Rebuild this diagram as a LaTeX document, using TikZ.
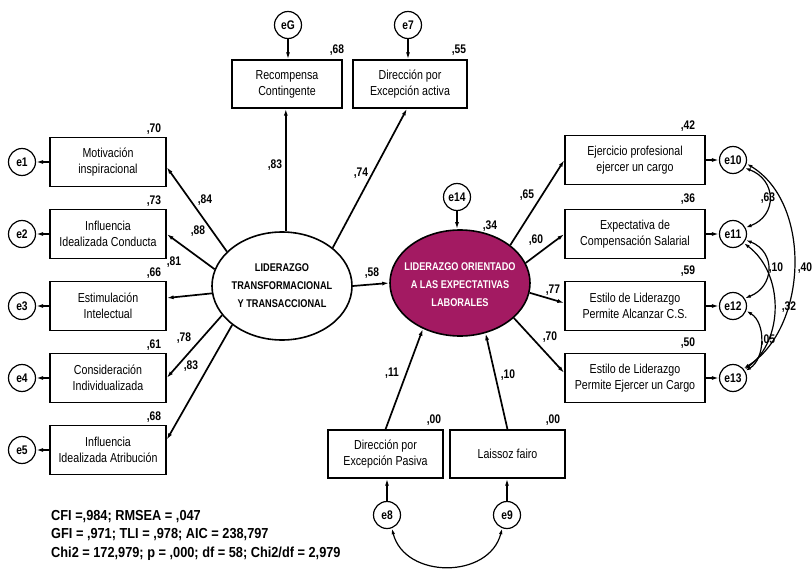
\documentclass[tikz,border=0pt]{standalone}
\usepackage{fontspec}
\setmainfont[FakeStretch=0.82]{Liberation Sans}
\newfontfamily\fitfont[FakeStretch=0.88]{Liberation Sans}
\usetikzlibrary{arrows.meta,shapes.geometric,calc}
\definecolor{magenta}{HTML}{A31A62}
\begin{document}
\begin{tikzpicture}[x=1pt,y=-1pt,
  box/.style={draw,line width=1.3pt,minimum height=49pt,align=center,font=\fontsize{13}{16}\selectfont,inner sep=1pt},
  err/.style={draw,circle,line width=1.2pt,minimum size=27pt,inner sep=0pt,font=\bfseries\fontsize{12.5}{14}\selectfont},
  lat/.style={draw,ellipse,line width=1.6pt,minimum width=140pt,minimum height=108pt,inner sep=0pt},
  lattext/.style={align=center,font=\bfseries\fontsize{11.2}{18}\selectfont,inner sep=0pt},
  arr/.style={line width=1.7pt,-{Latex[length=7pt,width=4pt]}},
  cov/.style={line width=1.2pt,{Latex[length=6pt,width=3.5pt]}-{Latex[length=6pt,width=3.5pt]}},
  lbl/.style={font=\bfseries\fontsize{12.5}{14}\selectfont,inner sep=0pt}]
\useasboundingbox (0,0) rectangle (812,570);

% latent variables
\node[lat] (L) at (282,286) {};
\node[lattext] (Lt) at (L) {LIDERAZGO\\TRANSFORMACIONAL\\Y TRANSACCIONAL};
\node[lat,fill=magenta,minimum height=106pt] (R) at (460,283) {};
\node[lattext,text=white] (Rt) at ([yshift=-2pt]R.center) {LIDERAZGO ORIENTADO\\A LAS EXPECTATIVAS\\LABORALES};

% left indicators
\foreach \i/\y/\t in {1/162/{Motivación\\inspiracional},2/234/{Influencia\\Idealizada Conducta},3/306/{Estimulación\\Intelectual},4/378/{Consideración\\Individualizada},5/450/{Influencia\\Idealizada Atribución}}{
  \node[box,minimum width=116pt] (b\i) at (108,\y) {\t};
  \node[err] (e\i) at (22,\y) {e\i};
  \draw[arr] (b\i.west) -- (e\i);
}
% top indicators
\node[box,minimum width=110pt,minimum height=48pt] (rc) at (287,84) {Recompensa\\Contingente};
\node[box,minimum width=114pt,minimum height=48pt] (da) at (410,84) {Dirección por\\Excepción activa};
\node[err] (eG) at (288,25) {eG};
\node[err] (e7) at (408,25) {e7};
\draw[arr] (eG) -- (eG |- rc.north);
\draw[arr] (e7) -- (e7 |- da.north);

% right indicators
\foreach \i/\y/\t/\e in {1/160/{Ejercicio profesional\\ejercer un cargo}/10,2/234/{Expectativa de\\Compensación Salarial}/11,3/306/{Estilo de Liderazgo\\Permite Alcanzar C.S.}/12,4/378/{Estilo de Liderazgo\\Permite Ejercer un Cargo}/13}{
  \node[box,minimum width=140pt] (r\i) at (635,\y) {\t};
  \node[err] (e\e) at (733,\y) {e\e};
  \draw[arr] (r\i.east) -- (e\e);
}

% bottom indicators
\node[box,minimum width=115pt,minimum height=48pt] (p1) at (385.5,454) {Dirección por\\Excepción Pasiva};
\node[box,minimum width=115pt,minimum height=48pt] (p2) at (507.5,454) {Laissoz fairo};
\node[err] (e8) at (387,515) {e8};
\node[err] (e9) at (507,515) {e9};
\draw[arr] (e8) -- (e8 |- p1.south);
\draw[arr] (e9) -- (e9 |- p2.south);
\node[err] (e14) at (457,197) {e14};
\draw[arr] (e14) -- (e14 |- R.north);

% paths from L
\draw[arr] (L.148) -- ([yshift=-5pt]b1.east);
\draw[arr] (L.166) -- (b2.east);
\draw[arr] (L.186) -- ([yshift=8pt]b3.east);
\draw[arr] (L.206) -- (b4.east);
\draw[arr] (L.218) -- ([yshift=10pt]b5.east);
\draw[arr] (L.86) -- (L.86 |- rc.south);
\draw[arr] (L.37) -- ([xshift=-3pt]da.south);
\draw[arr] (L.east) -- (R.west);

% paths to R
\draw[arr] (R.37) -- (r1.west);
\draw[arr] (R.17) -- (r2.west);
\draw[arr] (R.-8) -- ([yshift=3pt]r3.west);
\draw[arr] (R.-33) -- ([yshift=5pt]r4.west);
\draw[arr] (p1.north) -- (R.-129);
\draw[arr] (p2.north) -- (R.-63);

% covariances
\draw[cov] (e10.-34) .. controls ($(e10.-34)+(32,12)$) and ($(e11.27)+(32,-12)$) .. (e11.27);
\draw[cov] (e11.-25) .. controls ($(e11.-25)+(30,12)$) and ($(e12.33)+(30,-12)$) .. (e12.33);
\draw[cov] (e12.-20) .. controls ($(e12.-20)+(20,12)$) and ($(e13.30)+(20,-12)$) .. (e13.30);
\draw[cov] (e11.-40) .. controls ($(e11.-40)+(40,30)$) and ($(e13.36)+(40,-30)$) .. (e13.36);
\draw[cov] (e10.-15) .. controls ($(e10.-15)+(66,40)$) and ($(e13.42)+(64,-40)$) .. (e13.42);
\draw[cov] (e8.-70) .. controls ($(e8.-70)+(13,51)$) and ($(e9.-110)+(-13,51)$) .. (e9.-110);

% labels
\foreach \x/\y/\t in {154/129/{,70},154/201/{,73},154/273/{,66},154/345/{,61},154/417/{,68},
  205/200/{,84},198/231/{,88},174/262/{,81},184/338/{,78},191/366/{,83},
  337/50/{,68},459/50/{,55},275/165/{,83},361/173/{,74},372/273/{,58},
  490/226/{,34},688/126/{,42},688/199/{,36},688/271/{,59},688/343/{,50},
  527/195/{,65},536/240/{,60},553/290/{,77},550/337/{,70},
  392/373/{,11},508/375/{,10},434/420/{,00},553/420/{,00},
  768/198/{,63},776/268/{,10},789/307/{,32},768/340/{,05},805/268/{,40}}{
  \node[lbl] at (\x,\y) {\t};
}
\node[anchor=north west,align=left,font=\fitfont\bfseries\fontsize{14.5}{18.5}\selectfont,inner sep=0pt] (fit) at (51,510) {CFI =,984; RMSEA = ,047\\GFI = ,971; TLI = ,978; AIC = 238,797\\Chi2 = 172,979; p = ,000; df = 58; Chi2/df = 2,979};
\end{tikzpicture}
\end{document}
